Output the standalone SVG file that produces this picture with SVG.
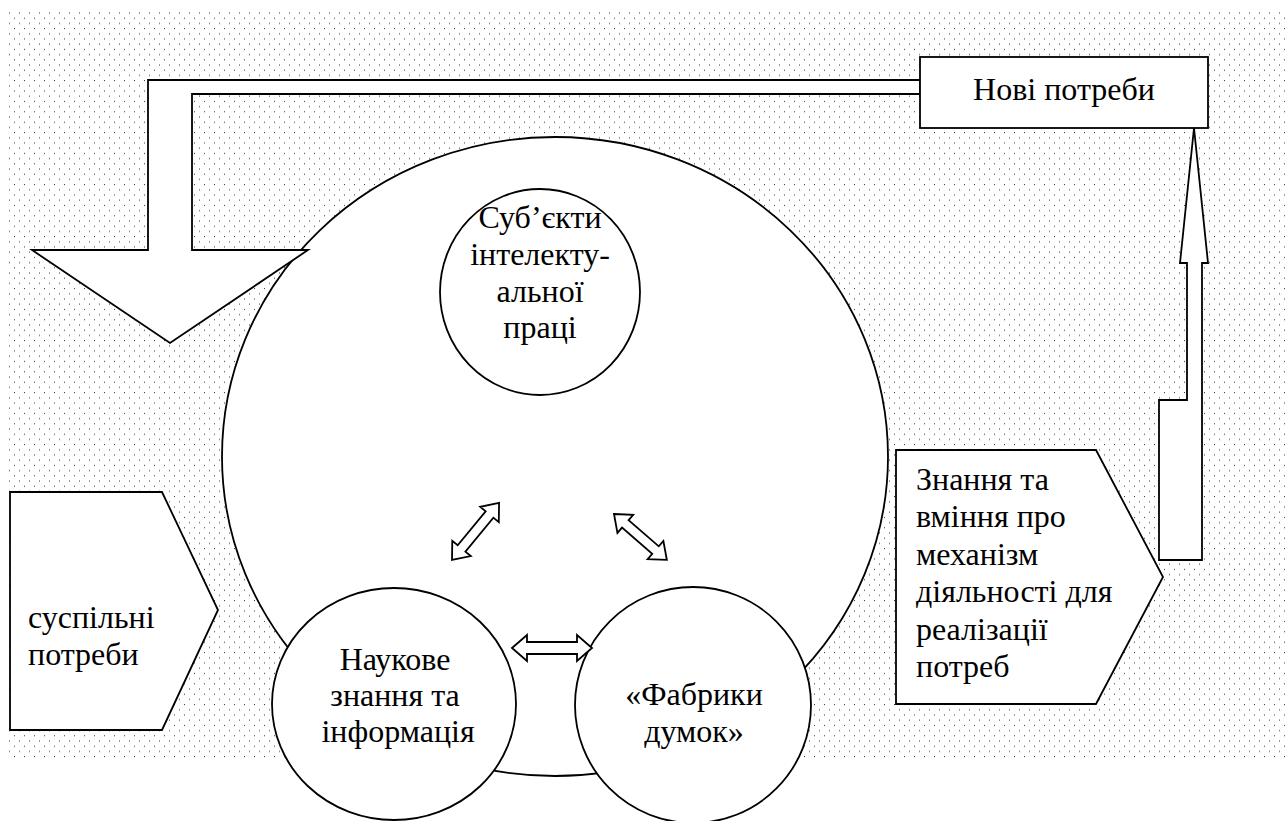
<svg xmlns="http://www.w3.org/2000/svg" width="1288" height="821" viewBox="0 0 1288 821">
<defs>
<pattern id="dots" patternUnits="userSpaceOnUse" x="8" y="12" width="10" height="10.4">
<rect x="1" y="0.5" width="1" height="1" fill="#333"/>
<rect x="6" y="5.7" width="1" height="1" fill="#333"/>
</pattern>
</defs>
<rect x="8" y="12" width="1280" height="746" fill="url(#dots)"/>
<g fill="#fff" stroke="#000" stroke-width="1.8">
<g id="big-circle"><ellipse cx="555" cy="456.5" rx="333" ry="319.5"/></g>
<g id="connectors">
<path d="M920,80 L148,80 L148,250 L32,250 L170,343 L308,250 L192,250 L192,94 L920,94 Z"/>
<path d="M1194,128 L1208,263 L1202,263 L1202,560 L1159,560 L1159,400 L1187,400 L1187,263 L1180,263 Z"/>
</g>
<g id="node-needs-new-shape"><rect x="920" y="57" width="288" height="71"/></g>
<g id="node-subjects-shape"><ellipse cx="540" cy="292" rx="100" ry="103"/></g>
<g id="node-knowledge-shape"><ellipse cx="394" cy="704" rx="122" ry="116"/></g>
<g id="node-factories-shape"><ellipse cx="693" cy="705" rx="118" ry="118"/></g>
<g id="node-social-shape"><path d="M10,492 L162,492 L218,610 L162,730 L10,730 Z"/></g>
<g id="node-skills-shape"><path d="M896,450 L1096,450 L1163,577 L1096,704 L896,704 Z"/></g>
<g id="small-arrows">
<path transform="translate(452,560) rotate(-50.5)" d="M0,0 L15,-12 L15,-5 L59,-5 L59,-12 L74,0 L59,12 L59,5 L15,5 L15,12 Z"/>
<path transform="translate(614,514) rotate(41)" d="M0,0 L15,-12 L15,-5 L55,-5 L55,-12 L70,0 L55,12 L55,5 L15,5 L15,12 Z"/>
<path transform="translate(512,648)" d="M0,0 L15,-13 L15,-6 L65,-6 L65,-13 L80,0 L65,13 L65,6 L15,6 L15,13 Z"/>
</g>
</g>
<g font-family="Times New Roman, Liberation Serif, Tinos, serif" font-size="32" fill="#000">
<g id="node-needs-new"><text text-anchor="middle" x="1064" y="100" font-family="Times New Roman, Liberation Serif, serif">Нові потреби</text></g>
<g id="node-subjects">
<text text-anchor="middle" x="540" y="228" font-family="Times New Roman, Liberation Serif, serif">Суб’єкти</text>
<text text-anchor="middle" x="540" y="265" font-family="Times New Roman, Liberation Serif, serif">інтелекту-</text>
<text text-anchor="middle" x="540" y="302" font-family="Times New Roman, Liberation Serif, serif">альної</text>
<text text-anchor="middle" x="540" y="338" font-family="Times New Roman, Liberation Serif, serif">праці</text></g>
<g id="node-knowledge">
<text text-anchor="middle" x="395" y="670" font-family="Times New Roman, Liberation Serif, serif">Наукове</text>
<text text-anchor="middle" x="395" y="706" font-family="Times New Roman, Liberation Serif, serif">знання та</text>
<text text-anchor="middle" x="398" y="742" font-family="Times New Roman, Liberation Serif, serif">інформація</text></g>
<g id="node-factories">
<text text-anchor="middle" x="694" y="705" font-family="Times New Roman, Liberation Serif, serif">«Фабрики</text>
<text text-anchor="middle" x="694" y="742" font-family="Times New Roman, Liberation Serif, serif">думок»</text></g>
<g id="node-social">
<text x="28" y="628" font-family="Times New Roman, Liberation Serif, serif">суспільні</text>
<text x="28" y="665" font-family="Times New Roman, Liberation Serif, serif">потреби</text></g>
<g id="node-skills">
<text x="916" y="490" font-family="Times New Roman, Liberation Serif, serif">Знання та</text>
<text x="916" y="527" font-family="Times New Roman, Liberation Serif, serif">вміння про</text>
<text x="916" y="565" font-family="Times New Roman, Liberation Serif, serif">механізм</text>
<text x="916" y="602" font-family="Times New Roman, Liberation Serif, serif">діяльності для</text>
<text x="916" y="640" font-family="Times New Roman, Liberation Serif, serif">реалізації</text>
<text x="916" y="677" font-family="Times New Roman, Liberation Serif, serif">потреб</text></g>
</g>
</svg>
